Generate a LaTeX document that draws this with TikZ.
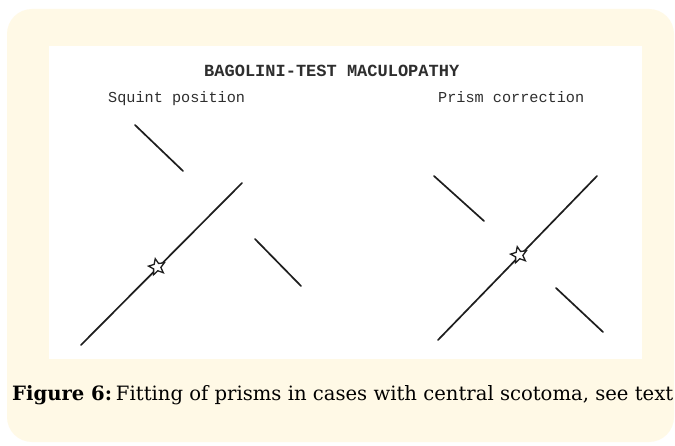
\documentclass[tikz,border=0pt]{standalone}
\usepackage{fontspec}
\usepackage{graphicx}
\setmainfont{DejaVu Serif}
\setmonofont{Liberation Mono}
\usetikzlibrary{shapes.geometric}
\definecolor{cream}{HTML}{FFF9E6}
\definecolor{ink}{HTML}{1E1E1E}
\definecolor{txt}{HTML}{2E2E2E}
\tikzset{
  seg/.style={draw=ink, line width=1.7pt, line cap=round},
  starmark/.style={star, star points=5, star point ratio=2.2, minimum size=17pt, inner sep=0pt, draw=ink, line width=1.3pt, fill=white, shape border rotate=12},
  mono/.style={font=\ttfamily, text=txt, inner sep=0pt, anchor=base west}
}
\begin{document}
\begin{tikzpicture}[x=1pt, y=-1pt]
\useasboundingbox (0,0) rectangle (675,446);
\fill[white] (0,0) rectangle (675,446);
\fill[cream, rounded corners=25pt] (7,9) rectangle (674,442);
\fill[white] (49,46) rectangle (642,359);

% title and sub-titles
\node[mono, font=\ttfamily\bfseries\fontsize{17}{17}\selectfont] (title) at (204,77) {BAGOLINI-TEST MACULOPATHY};
\node[mono, font=\ttfamily\fontsize{15.2}{15.2}\selectfont] (squint) at (108,103) {Squint position};
\node[mono, font=\ttfamily\fontsize{15.2}{15.2}\selectfont] (prism) at (438,103) {Prism correction};

% left panel
\coordinate (l1a) at (135,125); \coordinate (l1b) at (183,171);
\coordinate (l2a) at (81,345);  \coordinate (l2b) at (242,183);
\coordinate (l3a) at (255,239); \coordinate (l3b) at (301,286);
\draw[seg] (l1a) -- (l1b);
\draw[seg] (l2a) -- (l2b);
\draw[seg] (l3a) -- (l3b);
\node[starmark] (starL) at (157,267) {};

% right panel
\coordinate (r1a) at (434,176); \coordinate (r1b) at (484,221);
\coordinate (r2a) at (438,340); \coordinate (r2b) at (597,176);
\coordinate (r3a) at (556,288); \coordinate (r3b) at (603,332);
\draw[seg] (r1a) -- (r1b);
\draw[seg] (r2a) -- (r2b);
\draw[seg] (r3a) -- (r3b);
\node[starmark] (starR) at (519,255) {};

% caption
\node[inner sep=0pt, anchor=base west] (caption) at (12,401)
  {\resizebox{661pt}{15pt}{\fontsize{20}{20}\selectfont\textbf{Figure 6:}\hspace{0.2em}Fitting of prisms in cases with central scotoma, see text}};
\end{tikzpicture}
\end{document}
